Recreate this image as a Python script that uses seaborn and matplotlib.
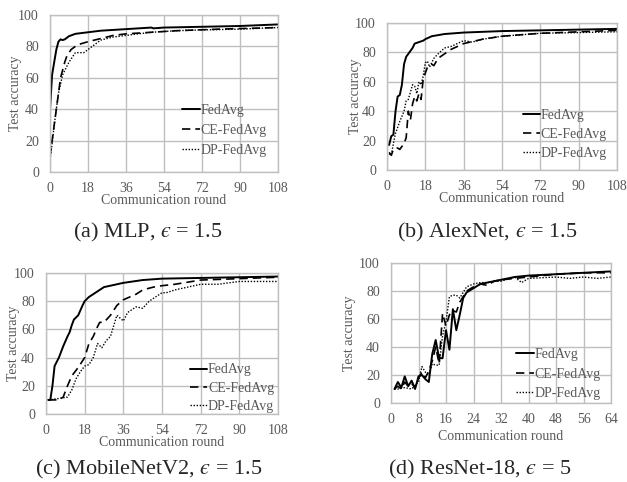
import matplotlib
matplotlib.use("Agg")
import matplotlib.pyplot as plt
import seaborn as sns
import pandas as pd

sns.set_style("white")
plt.rcParams['font.family'] = ['Liberation Serif', 'DejaVu Serif']
plt.rcParams['mathtext.fontset'] = 'stix'

series_names = ["FedAvg", "CE-FedAvg", "DP-FedAvg"]

# (a) MLP
mlp_fed_x = [0, 1, 2, 3, 4, 5, 6, 7, 9, 12, 18, 24, 36, 48, 49, 54, 72, 90, 108]
mlp_fed_y = [40, 62, 70, 78, 83, 84.5, 84, 84.5, 86.5, 88, 89, 90, 91, 92, 91.5, 92, 92.5, 93, 94]
mlp_ce_x = [0, 1, 2, 3, 4, 5, 6, 7, 8, 10, 13, 18, 24, 30, 36, 48, 60, 80, 108]
mlp_ce_y = [10, 20, 30, 40, 50, 60, 65, 70, 74, 78, 81, 83, 85, 87, 88, 89, 90, 91, 92]
mlp_dp_x = [0, 1, 2, 4, 6, 9, 12, 16, 20, 24, 30, 36, 48, 60, 72, 90, 108]
mlp_dp_y = [8, 18, 30, 50, 62, 70, 76, 76, 80, 84, 86, 87, 89, 90, 90.5, 91, 92]

# (b) AlexNet
alex_fed_x = [1, 2, 3, 4, 5, 6, 7, 8, 9, 10, 12, 13, 15, 17, 18, 21, 27, 36, 54, 72, 90, 108]
alex_fed_y = [17, 23, 24, 40, 50, 51, 58, 72, 77, 79, 83, 86, 87, 88, 89, 91, 92.5, 93.5, 94.5, 95, 95.5, 96]
alex_ce_x = [1, 2, 3, 5, 6, 8, 9, 10, 11, 12, 13, 14, 15, 16, 17, 19, 21, 22, 24, 27, 30, 33, 36, 45, 54, 72, 90, 108]
alex_ce_y = [12, 10, 14, 15, 14, 18, 22, 40, 34, 45, 50, 47, 52, 48, 62, 70, 72, 71, 76, 79, 82, 84, 86, 89, 91, 93, 94, 95]
alex_dp_x = [1, 2, 3, 4, 6, 8, 9, 10, 11, 12, 13, 14, 15, 16, 17, 18, 19, 20, 22, 24, 27, 30, 33, 36, 40, 45, 54, 72, 90, 108]
alex_dp_y = [11, 10, 18, 25, 33, 40, 47, 48, 53, 58, 57, 52, 60, 58, 64, 73, 74, 70, 76, 79, 83, 84, 86, 88, 87, 89, 91, 93, 93.5, 94]

# (c) MobileNetV2
mob_fed_x = [1, 2, 3, 4, 6, 8, 10, 11, 12, 13, 15, 17, 18, 20, 22, 24, 27, 30, 36, 45, 54, 72, 90, 108]
mob_fed_y = [10, 10, 20, 34, 40, 48, 55, 58, 63, 67, 70, 77, 80, 83, 85, 87, 90, 91, 93, 95, 96, 96.5, 97, 97.5]
mob_ce_x = [1, 3, 6, 8, 10, 12, 15, 18, 20, 22, 24, 25, 27, 30, 33, 36, 39, 42, 45, 50, 54, 60, 72, 90, 108]
mob_ce_y = [10, 10, 10, 12, 20, 27, 33, 40, 50, 55, 62, 65, 65, 70, 77, 81, 83, 85, 88, 90, 91, 92, 95, 96, 97]
mob_dp_x = [1, 6, 10, 12, 14, 16, 18, 20, 22, 24, 26, 28, 30, 33, 36, 38, 42, 45, 48, 52, 54, 56, 60, 66, 72, 80, 90, 100, 108]
mob_dp_y = [10, 11, 12, 17, 25, 30, 34, 35, 40, 50, 47, 52, 55, 70, 66, 72, 76, 75, 80, 84, 86, 86, 88, 90, 92, 92, 94, 94, 94]

# (d) ResNet-18
res_fed_x = [1, 2, 3, 4, 5, 6, 7, 8, 9, 10, 11, 12, 13, 14, 15, 16, 17, 18, 19, 20, 21, 22, 24, 26, 28, 30, 32, 36, 40, 48, 56, 64]
res_fed_y = [10, 15, 11, 19, 12, 16, 10, 19, 20, 17, 15, 35, 45, 32, 32, 52, 38, 67, 52, 63, 75, 79, 82, 85, 86, 87, 88, 90, 91, 92, 93, 94]
res_ce_x = [1, 2, 3, 4, 5, 6, 7, 8, 9, 10, 11, 12, 13, 14, 15, 16, 17, 18, 19, 20, 21, 22, 24, 26, 28, 30, 32, 36, 40, 48, 56, 64]
res_ce_y = [10, 12, 10, 15, 12, 14, 11, 18, 22, 18, 23, 30, 40, 28, 64, 55, 63, 66, 65, 72, 76, 80, 83, 85, 84, 87, 88, 89, 90, 92, 93, 93]
res_dp_x = [1, 2, 4, 6, 8, 9, 10, 11, 12, 13, 14, 15, 16, 17, 18, 19, 20, 22, 24, 26, 28, 30, 32, 36, 37, 38, 40, 48, 52, 56, 60, 64]
res_dp_y = [10, 10, 11, 10, 15, 26, 22, 20, 28, 27, 27, 48, 58, 76, 77, 77, 75, 83, 85, 86, 86, 87, 87, 90, 88, 86, 89, 90, 89, 90, 89, 90]

panels = [
    dict(rect=(50, 15, 278, 172), xmax=108, xstep=18, caption="(a) MLP, $\u03f5$ = 1.5",
         cap_xy=(148, 232), xlab_off=28, ylab_off=-34, lspace=0.5,
         data=[(mlp_fed_x, mlp_fed_y), (mlp_ce_x, mlp_ce_y), (mlp_dp_x, mlp_dp_y)],
         legend=(0.58, 0.096)),
    dict(rect=(387, 23, 617, 170), xmax=108, xstep=18, caption="(b) AlexNet, $\u03f5$ = 1.5",
         cap_xy=(487, 232), xlab_off=29, ylab_off=-31, lspace=0.45,
         data=[(alex_fed_x, alex_fed_y), (alex_ce_x, alex_ce_y), (alex_dp_x, alex_dp_y)],
         legend=(0.59, 0.068)),
    dict(rect=(46, 273, 278, 414), xmax=108, xstep=18, caption="(c) MobileNetV2, $\u03f5$ = 1.5",
         cap_xy=(149, 469), xlab_off=28, ylab_off=-32, lspace=0.38,
         data=[(mob_fed_x, mob_fed_y), (mob_ce_x, mob_ce_y), (mob_dp_x, mob_dp_y)],
         legend=(0.62, 0.007)),
    dict(rect=(391, 263, 611, 403), xmax=64, xstep=8, caption="(d) ResNet-18, $\u03f5$ = 5",
         cap_xy=(480, 469), xlab_off=34, ylab_off=-42, lspace=0.48,
         data=[(res_fed_x, res_fed_y), (res_ce_x, res_ce_y), (res_dp_x, res_dp_y)],
         legend=(0.57, 0.02)),
]

W, H = 627, 482
fig = plt.figure(figsize=(W / 100, H / 100), dpi=100)
styles = [dict(linestyle="-", linewidth=1.4), dict(linestyle=(0, (5, 3)), linewidth=1.2),
          dict(linestyle=(0, (1, 1.2)), linewidth=1.0)]
grey = "#595959"
gridc = "#bfbfbf"

for p in panels:
    l, t, r, b = p["rect"]
    aw, ah = r - l, b - t
    ax = fig.add_axes([l / W, (H - b) / H, aw / W, ah / H])
    for name, (xs, ys), st in zip(series_names, p["data"], styles):
        df = pd.DataFrame({"round": xs, "acc": ys})
        sns.lineplot(data=df, x="round", y="acc", ax=ax, color="black", label=name,
                     estimator=None, **st)
    ax.set_xlim(0, p["xmax"])
    ax.set_ylim(0, 100)
    ax.set_xticks(range(0, p["xmax"] + 1, p["xstep"]))
    ax.set_yticks(range(0, 101, 20))
    ax.grid(True, color=gridc, linewidth=1.0)
    ax.set_axisbelow(True)
    for s in ax.spines.values():
        s.set_color(gridc)
        s.set_linewidth(1.0)
    ax.tick_params(axis="x", length=0, labelsize=10, labelcolor=grey, pad=7)
    ax.tick_params(axis="y", length=0, labelsize=10, labelcolor=grey, pad=8)
    ax.set_xlabel("Communication round", fontsize=10, color=grey)
    ax.set_ylabel("Test accuracy", fontsize=10, color=grey)
    ax.xaxis.label.set_va("center")
    ax.yaxis.label.set_va("center")
    ax.xaxis.set_label_coords(0.5, -p["xlab_off"] / ah)
    ax.yaxis.set_label_coords(p["ylab_off"] / aw, 0.5)
    leg = ax.legend(loc="lower left", bbox_to_anchor=p["legend"], frameon=False,
                    handlelength=1.25, handletextpad=0.05, labelspacing=p["lspace"],
                    fontsize=10, borderaxespad=0, borderpad=0)
    for txt in leg.get_texts():
        txt.set_color(grey)
    fig.text(p["cap_xy"][0] / W, 1 - p["cap_xy"][1] / H, p["caption"], ha="center",
             va="center", fontsize=16)

fig.savefig("out.png", dpi=100)
